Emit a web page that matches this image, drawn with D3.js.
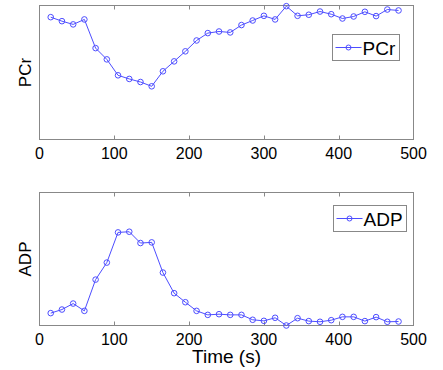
<!DOCTYPE html>
<html>
<head>
<meta charset="utf-8">
<script src="https://cdn.jsdelivr.net/npm/d3@7"></script>
<style>
  body { margin: 0; background: #fff; }
  text { font-family: "Liberation Sans", Arial, sans-serif; fill: #000; }
</style>
</head>
<body>
<div class="chart"></div>
<script>
// sample times (s)
var times = [15, 30, 45, 60, 75, 90, 105, 120, 135, 150, 165, 180, 195, 210, 225, 240,
             255, 270, 285, 300, 315, 330, 345, 360, 375, 390, 405, 420, 435, 450, 465, 480];

// PCr, arbitrary units (% of axis range)
var pcr = [91.3, 88.3, 85.9, 89.6, 68.2, 59.8, 47.9, 45.2, 42.9, 39.7, 50.9, 58.3, 65.8, 73.9, 79.4, 80.6,
           79.9, 85.4, 88.8, 92.3, 89.6, 99.5, 92.3, 93.1, 95.5, 93.5, 90.3, 91.8, 95.3, 92.1, 97.0, 96.3];

// ADP, arbitrary units
var adp = [9.3, 12.0, 16.5, 11.0, 34.5, 47.3, 70.0, 70.5, 62.0, 62.5, 39.8, 24.3, 17.5, 11.0, 8.0, 8.5,
           8.0, 8.0, 4.3, 3.5, 5.8, 0.0, 5.5, 3.3, 2.8, 4.0, 6.5, 6.5, 3.3, 6.3, 2.8, 3.0];

var xTicks = [0, 100, 200, 300, 400, 500];

var width = 443,
    height = 370,
    left = 39.5,
    right = 413.5;

var blue = "#4d4dff";

var svg = d3.select(".chart").append("svg")
    .attr("width", width)
    .attr("height", height);

var x = d3.scaleLinear().domain([0, 500]).range([left, right]);

var panels = [
    { values: pcr, label: "PCr", top: 5.5, bottom: 139.5, legend: [332.5, 34.5, 67, 26] },
    { values: adp, label: "ADP", top: 192.5, bottom: 325.5, legend: [333.5, 205.5, 73, 26] }
];

panels.forEach(function (p, i) {
    var y = d3.scaleLinear().domain([0, 100]).range([p.bottom, p.top]);
    var g = svg.append("g");

    // ticks top and bottom, pointing inward
    g.selectAll(".tb").data(xTicks.slice(1, -1)).enter().append("line")
        .attr("x1", function (d) { return Math.round(x(d)) + 0.5; })
        .attr("x2", function (d) { return Math.round(x(d)) + 0.5; })
        .attr("y1", p.bottom).attr("y2", p.bottom - 4)
        .attr("stroke", "#888");
    g.selectAll(".tt").data(xTicks.slice(1, -1)).enter().append("line")
        .attr("x1", function (d) { return Math.round(x(d)) + 0.5; })
        .attr("x2", function (d) { return Math.round(x(d)) + 0.5; })
        .attr("y1", p.top).attr("y2", p.top + 4)
        .attr("stroke", "#888");

    // tick labels
    g.selectAll(".tl").data(xTicks).enter().append("text")
        .attr("x", function (d) { return x(d); })
        .attr("y", p.bottom + 19)
        .attr("text-anchor", "middle")
        .style("font-size", "16px")
        .text(function (d) { return d; });

    // box
    g.append("rect")
        .attr("x", left).attr("y", p.top)
        .attr("width", right - left).attr("height", p.bottom - p.top)
        .attr("fill", "none").attr("stroke", "#888");

    // y label
    g.append("text")
        .attr("transform", "translate(31," + (p.top + p.bottom) / 2 + ") rotate(-90)")
        .attr("text-anchor", "middle")
        .style("font-size", "17px")
        .text(p.label);

    // line
    var line = d3.line()
        .x(function (d, j) { return x(times[j]); })
        .y(function (d) { return y(d); });

    g.append("path")
        .datum(p.values)
        .attr("d", line)
        .attr("fill", "none")
        .attr("stroke", blue)
        .attr("stroke-width", 1);

    g.selectAll(".pt").data(p.values).enter().append("circle")
        .attr("cx", function (d, j) { return x(times[j]); })
        .attr("cy", function (d) { return y(d); })
        .attr("r", 2.8)
        .attr("fill", "none")
        .attr("stroke", blue)
        .attr("stroke-width", 1);

    // legend
    var L = p.legend;
    g.append("rect")
        .attr("x", L[0]).attr("y", L[1])
        .attr("width", L[2]).attr("height", L[3])
        .attr("fill", "#fff").attr("stroke", "#888");
    var ly = L[1] + L[3] / 2;
    g.append("line")
        .attr("x1", L[0] + 3).attr("x2", L[0] + 29)
        .attr("y1", ly).attr("y2", ly)
        .attr("stroke", blue);
    g.append("circle")
        .attr("cx", L[0] + 16).attr("cy", ly).attr("r", 2.5)
        .attr("fill", "none").attr("stroke", blue);
    g.append("text")
        .attr("x", L[0] + 30).attr("y", ly + 7)
        .style("font-size", "19px")
        .text(p.label);
});

// x label
svg.append("text")
    .attr("x", (left + right) / 2)
    .attr("y", 363)
    .attr("text-anchor", "middle")
    .style("font-size", "19px")
    .text("Time (s)");
</script>
</body>
</html>
